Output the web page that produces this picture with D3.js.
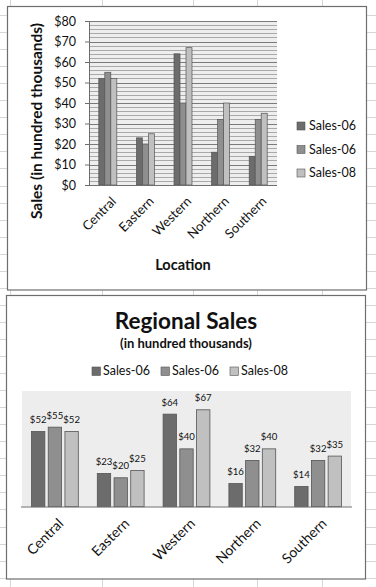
<!DOCTYPE html>
<html>
<head>
<meta charset="utf-8">
<script src="https://cdn.jsdelivr.net/npm/d3@7"></script>
<style>
  body { margin: 0; background: #fff; }
  svg text { font-family: Lato, "Open Sans", sans-serif; fill: #111; }
</style>
</head>
<body>
<script>
// data
const categories = ["Central", "Eastern", "Western", "Northern", "Southern"];
const seriesNames = ["Sales-06", "Sales-06", "Sales-08"];
const sales06a = [52, 23, 64, 16, 14];
const sales06b = [55, 20, 40, 32, 32];
const sales08 = [52, 25, 67, 40, 35];
const yTicks = [0, 10, 20, 30, 40, 50, 60, 70, 80];

const colors = ["#6c6c6c", "#8f8f8f", "#c0c0c0"];
const allSeries = [sales06a, sales06b, sales08];
const rows = categories.map((c, i) => ({ cat: c, vals: allSeries.map(s => s[i]) }));

const width = 376, height = 587;
const svg = d3.select("body").append("svg")
  .attr("width", width)
  .attr("height", height);

// spreadsheet cells behind the charts
const sheet = svg.append("g").attr("stroke", "#d6d6d6").attr("stroke-width", 1);
d3.range(0, 35).forEach(k => {
  const yy = Math.round(15 + k * 17.05) + 0.5;
  sheet.append("line").attr("x1", 0).attr("x2", width).attr("y1", yy).attr("y2", yy);
});
[10, 102, 193, 257, 322].forEach(xx => {
  sheet.append("line").attr("x1", xx + 0.5).attr("x2", xx + 0.5).attr("y1", 0).attr("y2", height);
});

// ---------- top chart ----------
const chart1 = svg.append("g");
chart1.append("rect").attr("x", 7.5).attr("y", 6.5).attr("width", 359).attr("height", 283.5)
  .attr("fill", "#fff").attr("stroke", "#6e6e6e").attr("stroke-width", 1.2);

const x0 = d3.scaleBand().domain(categories).range([89, 277]);
const x1 = d3.scaleBand().domain([0, 1, 2]).range([0, 18]);
const y = d3.scaleLinear().domain([0, 80]).range([185, 21]);

chart1.append("rect").attr("x", 89).attr("y", 21).attr("width", 188).attr("height", 164)
  .attr("fill", "#eeeeee");

// minor + major grid
chart1.append("g").selectAll("line").data(d3.range(0, 81, 2)).enter().append("line")
  .attr("x1", 89).attr("x2", 277)
  .attr("y1", d => Math.round(y(d)) + 0.5).attr("y2", d => Math.round(y(d)) + 0.5)
  .attr("stroke", d => d % 10 === 0 ? "#7a7a7a" : "#a9a9a9")
  .attr("stroke-width", 1);

chart1.append("g").selectAll("g").data(rows).enter().append("g")
  .attr("transform", d => "translate(" + (x0(d.cat) + (x0.bandwidth() - 18) / 2) + ",0)")
  .selectAll("rect").data(d => d.vals).enter().append("rect")
  .attr("x", (d, i) => x1(i))
  .attr("y", d => y(d))
  .attr("width", x1.bandwidth())
  .attr("height", d => y(0) - y(d))
  .attr("fill", (d, i) => colors[i])
  .attr("stroke", "#555").attr("stroke-width", 0.7);

const yAxis = chart1.append("g").attr("transform", "translate(89,0)")
  .call(d3.axisLeft(y).tickValues(yTicks).tickSize(4).tickFormat(d => "$" + d));
yAxis.select(".domain").attr("stroke", "#6e6e6e");
yAxis.selectAll(".tick line").attr("stroke", "#6e6e6e");
yAxis.selectAll("text").attr("font-size", 12.5).attr("x", -13).attr("fill", "#111");

chart1.append("line").attr("x1", 89).attr("x2", 277).attr("y1", 185.5).attr("y2", 185.5)
  .attr("stroke", "#6e6e6e");

chart1.append("g").selectAll("text").data(categories).enter().append("text")
  .attr("transform", d => "translate(" + (x0(d) + x0.bandwidth() / 2 + 6) + ",199) rotate(-45)")
  .attr("text-anchor", "end").attr("dy", "0.35em")
  .attr("font-size", 13).text(d => d);

chart1.append("text").attr("x", 183).attr("y", 270).attr("text-anchor", "middle")
  .attr("font-size", 14.5).attr("font-weight", "bold").text("Location");

chart1.append("text").attr("transform", "translate(42,121) rotate(-90)")
  .attr("text-anchor", "middle").attr("font-size", 15.5).attr("font-weight", "bold")
  .text("Sales (in hundred thousands)");

const leg1 = chart1.append("g").selectAll("g").data(seriesNames).enter().append("g")
  .attr("transform", (d, i) => "translate(297," + (126 + i * 23.5) + ")");
leg1.append("rect").attr("x", 0).attr("y", -4).attr("width", 8).attr("height", 8)
  .attr("fill", (d, i) => colors[i]).attr("stroke", "#555").attr("stroke-width", 0.6);
leg1.append("text").attr("x", 12).attr("dy", "0.35em").attr("font-size", 12.5).text(d => d);

// ---------- bottom chart ----------
const chart2 = svg.append("g");
chart2.append("rect").attr("x", 6.5).attr("y", 295.5).attr("width", 359).attr("height", 283.5)
  .attr("fill", "#fff").attr("stroke", "#6e6e6e").attr("stroke-width", 1.2);

chart2.append("text").attr("x", 186).attr("y", 329).attr("text-anchor", "middle")
  .attr("font-size", 22.5).attr("font-weight", "bold").text("Regional Sales");
chart2.append("text").attr("x", 186).attr("y", 348).attr("text-anchor", "middle")
  .attr("font-size", 13).attr("font-weight", "bold").text("(in hundred thousands)");

const legX = [92, 161, 230];
const leg2 = chart2.append("g").selectAll("g").data(seriesNames).enter().append("g")
  .attr("transform", (d, i) => "translate(" + legX[i] + ",371)");
leg2.append("rect").attr("x", 0).attr("y", -4).attr("width", 8.5).attr("height", 8.5)
  .attr("fill", (d, i) => colors[i]).attr("stroke", "#555").attr("stroke-width", 0.6);
leg2.append("text").attr("x", 11).attr("dy", "0.35em").attr("font-size", 12.5).text(d => d);

const bx0 = d3.scaleBand().domain(categories).range([22, 351]);
const bx1 = d3.scaleBand().domain([0, 1, 2]).range([0, 46.8]).paddingInner(0.2);
const by = d3.scaleLinear().domain([0, 80]).range([506.7, 391]);

chart2.append("rect").attr("x", 22).attr("y", 391).attr("width", 329).attr("height", 115.7)
  .attr("fill", "#ededed");

const groups = chart2.append("g").selectAll("g").data(rows).enter().append("g")
  .attr("transform", d => "translate(" + (bx0(d.cat) + (bx0.bandwidth() - 46.8) / 2) + ",0)");
groups.selectAll("rect").data(d => d.vals).enter().append("rect")
  .attr("x", (d, i) => bx1(i))
  .attr("y", d => by(d))
  .attr("width", bx1.bandwidth())
  .attr("height", d => by(0) - by(d))
  .attr("fill", (d, i) => colors[i])
  .attr("stroke", "#555").attr("stroke-width", 0.8);
groups.selectAll("text").data(d => d.vals).enter().append("text")
  .attr("x", (d, i) => bx1(i) + bx1.bandwidth() / 2)
  .attr("y", d => by(d) - 8.5)
  .attr("text-anchor", "middle").attr("font-size", 9.6).text(d => "$" + d);

chart2.append("line").attr("x1", 21).attr("x2", 352).attr("y1", 507).attr("y2", 507)
  .attr("stroke", "#6e6e6e").attr("stroke-width", 1.2);

chart2.append("g").selectAll("text").data(categories).enter().append("text")
  .attr("transform", d => "translate(" + (bx0(d) + bx0.bandwidth() / 2 + 6) + ",521) rotate(-45)")
  .attr("text-anchor", "end").attr("dy", "0.35em")
  .attr("font-size", 14).text(d => d);
</script>
</body>
</html>
